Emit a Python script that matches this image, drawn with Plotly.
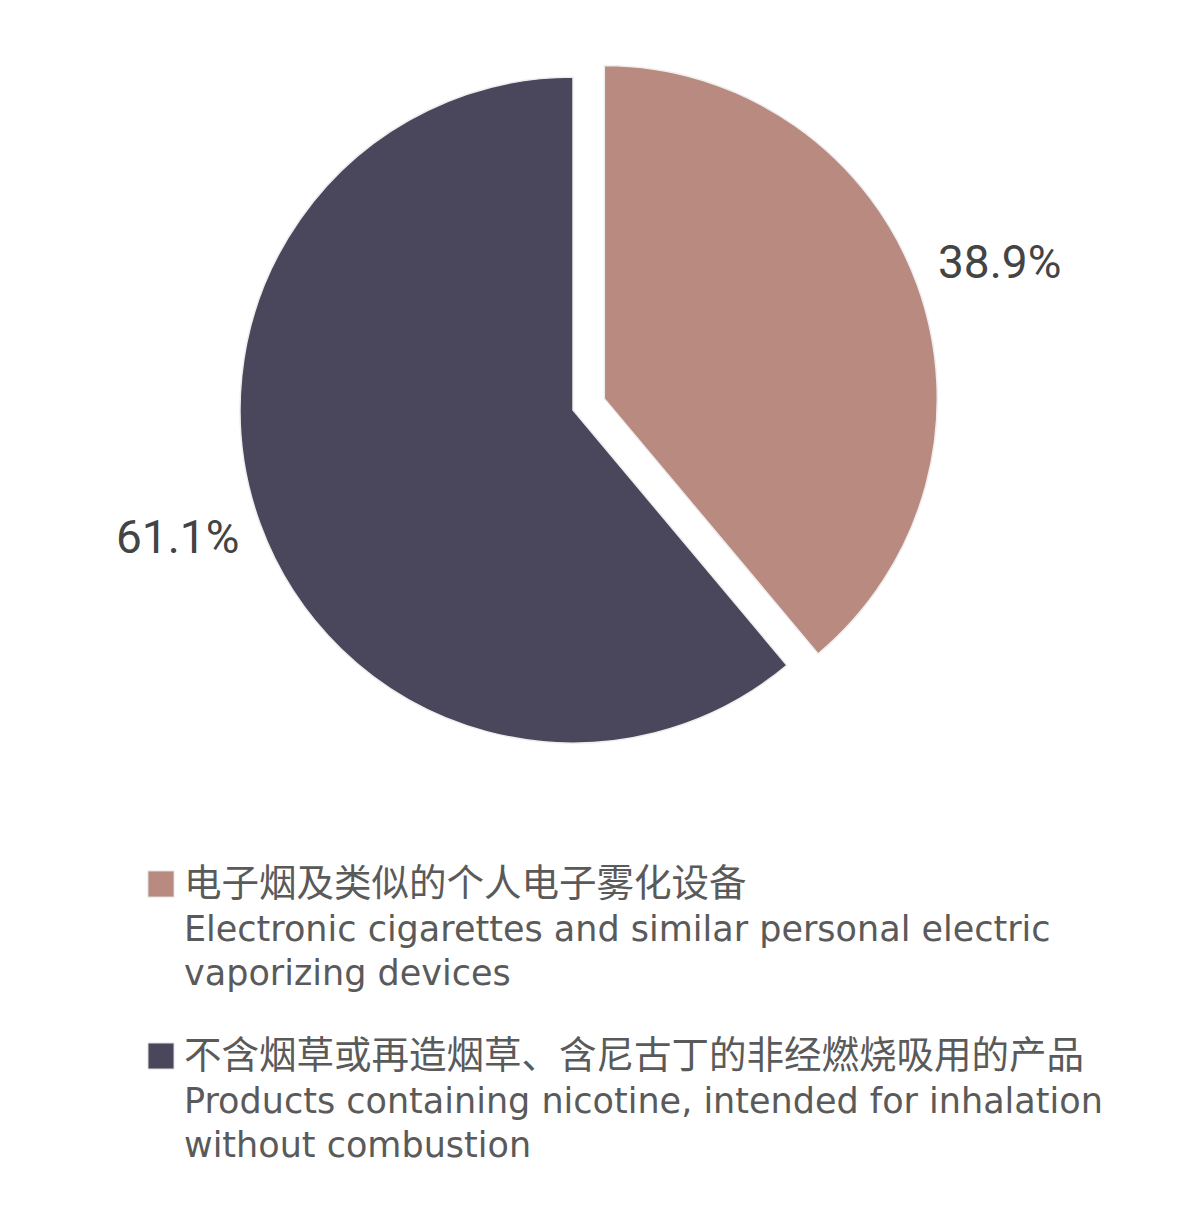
import math
import plotly.graph_objects as go

# data
labels_cn = ["电子烟及类似的个人电子雾化设备",
             "不含烟草或再造烟草、含尼古丁的非经燃烧吸用的产品"]
labels_en = [["Electronic cigarettes and similar personal electric", "vaporizing devices"],
             ["Products containing nicotine, intended for inhalation", "without combustion"]]
shares = [38.9, 61.1]
colors = ["#B98A80", "#4A475C"]
pulls = [0.1, 0]

W, H = 1200, 1227
OFF = 8  # page body margin, subtract so positions land where the reference has them
LATIN = "DejaVu Sans, Noto Sans CJK SC, sans-serif"
CJK = "Noto Sans CJK SC, sans-serif"

def px_x(x):
    return (x - OFF) / W

def px_y(y):
    return 1 - (y - OFF) / H

r = 333
half = r * (1 + max(pulls))
cx, cy = 573, 410

fig = go.Figure(go.Pie(
    labels=labels_cn,
    values=shares,
    sort=False,
    direction="clockwise",
    rotation=0,
    pull=pulls,
    marker=dict(colors=colors, line=dict(color="#eeeeee", width=1.5)),
    textinfo="none",
    showlegend=False,
    hoverinfo="label+percent",
    domain=dict(x=[px_x(cx - half), px_x(cx + half)],
                y=[px_y(cy + half), px_y(cy - half)]),
))

# percent labels set outside each slice, along its middle angle
total = sum(shares)
start = 0
for v, p in zip(shares, pulls):
    mid = (start + v / 2) / total * 2 * math.pi
    start += v
    ox = cx + p * r * math.sin(mid)
    oy = cy - p * r * math.cos(mid)
    lx = ox + 421 * math.sin(mid)
    ly = oy - 385 * math.cos(mid) - 5
    fig.add_annotation(xref="paper", yref="paper", x=px_x(lx), y=px_y(ly),
                       xanchor="center", yanchor="middle", showarrow=False,
                       text=f"{v / total * 100:.1f}%",
                       font=dict(size=46, color="#444444", family="Roboto, sans-serif"))

# legend drawn by hand so swatch size and line spacing match the reference
legend_rows = [884, 1056]
for cn, en, col, yc in zip(labels_cn, labels_en, colors, legend_rows):
    fig.add_shape(type="rect", xref="paper", yref="paper",
                  x0=px_x(148), x1=px_x(174), y0=px_y(yc + 13), y1=px_y(yc - 13),
                  fillcolor=col, line=dict(color="#dddddd", width=1))
    fig.add_annotation(xref="paper", yref="paper", x=px_x(182), y=px_y(yc - 5),
                       xanchor="left", yanchor="middle", align="left",
                       showarrow=False, text=cn,
                       font=dict(size=37.5, color="#5a5a5a", family=CJK))
    for i, line in enumerate(en):
        fig.add_annotation(xref="paper", yref="paper", x=px_x(182), y=px_y(yc + 45 + 44 * i),
                           xanchor="left", yanchor="middle", align="left",
                           showarrow=False, text=line,
                           font=dict(size=35, color="#5a5a5a", family=LATIN))

fig.update_layout(
    width=W, height=H,
    margin=dict(l=0, r=0, t=0, b=0),
    paper_bgcolor="white",
    plot_bgcolor="white",
)

fig.write_html("out.html")
